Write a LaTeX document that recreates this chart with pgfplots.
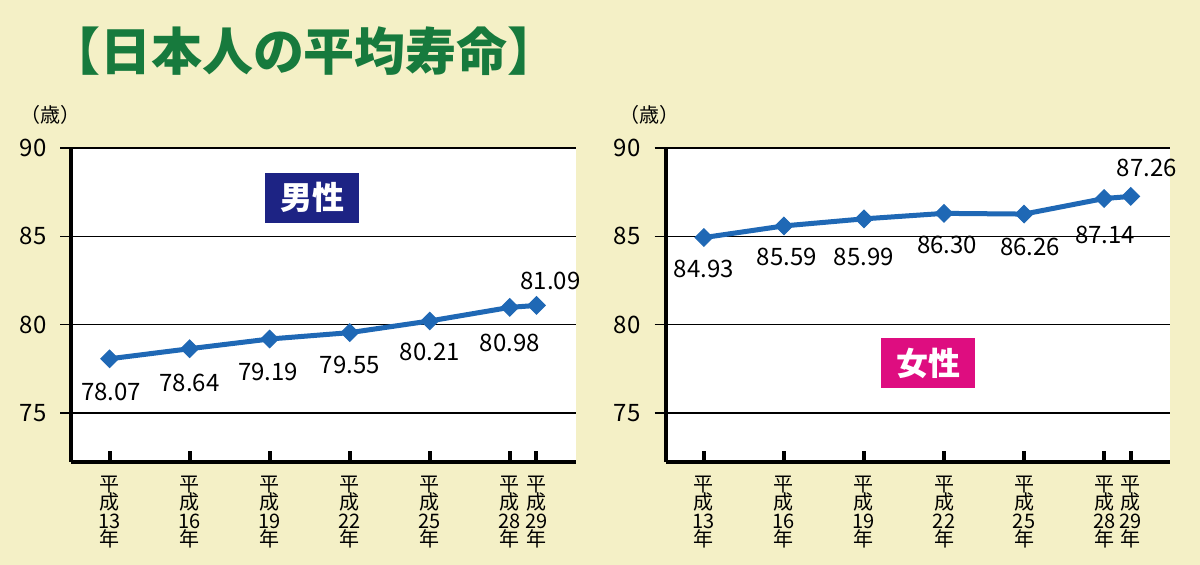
\documentclass[border=0pt]{standalone}
\usepackage{fontspec}
\setmainfont{Noto Sans CJK JP}
\usepackage{pgfplots}
\usepackage{pgfplotstable}
\pgfplotsset{compat=1.18}

\definecolor{bgc}{HTML}{F4F0C6}
\definecolor{titlegreen}{HTML}{177A3D}
\definecolor{lineblue}{HTML}{1F68B5}
\definecolor{boxnavy}{HTML}{1D2384}
\definecolor{boxmag}{HTML}{DE0D80}

\pgfplotstableread{
x y dx dy
13 78.07 0.8 -16.5
16 78.64 0 -17
19 79.19 -0.8 -16.5
22 79.55 0 -16
25 80.21 0 -15.5
28 80.98 0 -18
29 81.09 7 12
}\male

\pgfplotstableread{
x y dx dy
13 84.93 0 -15.5
16 85.59 1.5 -15.75
19 85.99 0 -19
22 86.30 1.5 -16
25 86.26 3 -16.5
28 87.14 0.5 -18
29 87.26 8 14
}\female

\pgfplotsset{
  lifeaxis/.style={
    scale only axis, width=252.15pt, height=157pt,
    xmin=11.57, xmax=30.47, ymin=72.23, ymax=90,
    axis x line*=bottom, axis y line*=left,
    axis line style={line width=2pt, black, -},
    axis background/.style={fill=white},
    xtick={13,16,19,22,25,28,29},
    xticklabels={{平\\成\\13\\年},{平\\成\\16\\年},{平\\成\\19\\年},{平\\成\\22\\年},{平\\成\\25\\年},{平\\成\\28\\年},{平\\成\\29\\年}},
    xticklabel style={align=center, font=\fontsize{10}{9.2}\selectfont, yshift=-3.5pt},
    ytick={75,80,85,90},
    yticklabel style={font=\fontsize{12}{14}\selectfont, xshift=-3.5pt},
    /pgf/number format/assume math mode=true,
    ymajorgrids, major grid style={black, line width=0.8pt},
    xtick align=inside, ytick align=outside,
    major tick length=5.5pt,
    x tick style={line width=2pt, black},
    y tick style={line width=0.8pt, black},
    nodes near coords,
    point meta=explicit symbolic,
    visualization depends on={\thisrow{dx} \as \dx},
    visualization depends on={\thisrow{dy} \as \dy},
    every node near coord/.append style={anchor=center, xshift=\dx*1pt, yshift=\dy*1pt,
      font=\fontsize{12}{14}\selectfont, text=black},
    clip=false,
  },
  lifeplot/.style={color=lineblue, line width=2.5pt, mark=square*,
    mark options={rotate=45, line width=0.5pt, fill=lineblue, draw=lineblue}, mark size=3.1pt},
}

\begin{document}
\begin{tikzpicture}
\useasboundingbox (0,0) rectangle (600pt,282.5pt);
\fill[bgc] (0,0) rectangle (600pt,282.5pt);
\node[font=\fontsize{25.5}{28}\selectfont\bfseries, text=titlegreen] at (152pt,257pt) {【日本人の平均寿命】};
\node[font=\fontsize{10}{11}\selectfont] at (25pt,225pt) {（歳）};
\node[font=\fontsize{10}{11}\selectfont] at (324.5pt,225pt) {（歳）};

\begin{axis}[lifeaxis, at={(35.7pt,51.5pt)}, anchor=south west]
\addplot[lifeplot] table[x=x, y=y, meta=y] {\male};
\end{axis}

\begin{axis}[lifeaxis, at={(332.85pt,51.5pt)}, anchor=south west]
\addplot[lifeplot] table[x=x, y=y, meta=y] {\female};
\end{axis}

\node[fill=boxnavy, text=white, minimum width=47pt, minimum height=25pt, inner sep=0pt,
  font=\fontsize{16}{18}\selectfont\bfseries] at (156pt,183.65pt) {男性};
\node[fill=boxmag, text=white, minimum width=47pt, minimum height=25pt, inner sep=0pt,
  font=\fontsize{16}{18}\selectfont\bfseries] at (464pt,101pt) {女性};
\end{tikzpicture}
\end{document}
